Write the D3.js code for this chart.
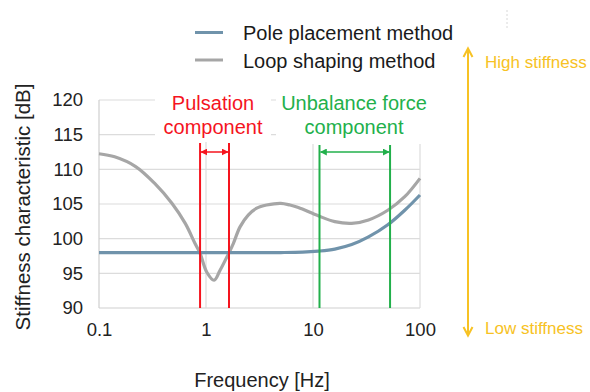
<!DOCTYPE html>
<html>
<head>
<meta charset="utf-8">
<script src="https://cdn.jsdelivr.net/npm/d3@7"></script>
<style>
  body { margin: 0; background: #fff; }
  svg { font-family: "Liberation Sans", Arial, sans-serif; }
</style>
</head>
<body>
<svg id="chart" width="590" height="392"></svg>
<script>
// Frequency points [Hz] and stiffness values [dB]
const loopFreqs = [0.1, 0.14, 0.22, 0.33, 0.48, 0.64, 0.79, 0.88, 1.015, 1.19, 1.35, 1.62, 1.8, 2.08, 2.48, 2.98, 3.69, 5.0, 6.1, 7.3, 11.2, 16, 23, 33, 50, 72, 100];
const loopShaping = [112.25, 111.8, 110.4, 108.0, 105.1, 102.2, 99.3, 97.9, 95.2, 94.0, 95.4, 97.8, 99.3, 101.7, 103.4, 104.4, 104.85, 105.1, 104.85, 104.5, 103.3, 102.45, 102.2, 102.7, 104.1, 106.05, 108.7];

const poleFreqs = [0.1, 0.3, 1, 3, 5, 8, 11.2, 16, 23, 33, 50, 72, 100];
const polePlacement = [98, 98, 98, 98, 98, 98.05, 98.2, 98.5, 99.15, 100.25, 102.0, 104.1, 106.3];

const xTicks = [0.1, 1, 10, 100];
const xTickLabels = ["0.1", "1", "10", "100"];
const yTicks = [90, 95, 100, 105, 110, 115, 120];

// frequency bands marked on the plot
const pulsationBand = [0.88, 1.64];
const unbalanceBand = [11.5, 52.5];

const svg = d3.select("#chart");

const x = d3.scaleLog().domain([0.1, 100]).range([99, 420]);
const y = d3.scaleLinear().domain([90, 120]).range([308, 100]);

const gridColor = "#dcdcdc";
const grayLine = "#a6a6a6";
const blueLine = "#7093ab";
const red = "#f5141e";
const green = "#22b04b";
const yellow = "#f7c224";

// Horizontal grid lines
svg.append("g")
    .selectAll("line")
    .data(yTicks)
    .enter()
    .append("line")
    .attr("x1", x(0.1))
    .attr("x2", x(100))
    .attr("y1", d => y(d))
    .attr("y2", d => y(d))
    .attr("stroke", d => d === 90 ? "#cfcfcf" : gridColor)
    .attr("stroke-width", 1.2);

// Vertical grid lines
svg.append("g")
    .selectAll("line")
    .data(xTicks)
    .enter()
    .append("line")
    .attr("x1", d => x(d))
    .attr("x2", d => x(d))
    .attr("y1", y(120))
    .attr("y2", y(90))
    .attr("stroke", d => d === 0.1 ? "#cfcfcf" : gridColor)
    .attr("stroke-width", 1.2);

// Axes (labels only)
const yAxis = svg.append("g")
    .attr("transform", `translate(${x(0.1)},0)`)
    .call(d3.axisLeft(y).tickValues(yTicks).tickSize(0).tickPadding(16));
yAxis.select(".domain").remove();
yAxis.selectAll("text")
    .style("font-size", "18.5px")
    .attr("fill", "#222");

const xAxis = svg.append("g")
    .attr("transform", `translate(0,${y(90)})`)
    .call(d3.axisBottom(x).tickValues(xTicks).tickSize(0).tickPadding(15)
        .tickFormat((d, i) => xTickLabels[i]));
xAxis.select(".domain").remove();
xAxis.selectAll("text")
    .style("font-size", "18.5px")
    .attr("fill", "#222");

// Curves
const line = d3.line()
    .x(d => x(d[0]))
    .y(d => y(d[1]))
    .curve(d3.curveCatmullRom.alpha(0.5));

svg.append("path")
    .datum(loopFreqs.map((f, i) => [f, loopShaping[i]]))
    .attr("d", line)
    .attr("fill", "none")
    .attr("stroke", grayLine)
    .attr("stroke-width", 3.2);

svg.append("path")
    .datum(poleFreqs.map((f, i) => [f, polePlacement[i]]))
    .attr("d", line)
    .attr("fill", "none")
    .attr("stroke", blueLine)
    .attr("stroke-width", 3.2);

// White boxes behind band labels (they hide the top grid lines)
svg.append("rect").attr("x", 155).attr("y", 86).attr("width", 116).attr("height", 56).attr("fill", "#fff");
svg.append("rect").attr("x", 276).attr("y", 86).attr("width", 156).attr("height", 58).attr("fill", "#fff");

// Arrow markers
const defs = svg.append("defs");
function addMarker(id, color) {
    defs.append("marker")
        .attr("id", id)
        .attr("viewBox", "0 0 10 10")
        .attr("refX", 9).attr("refY", 5)
        .attr("markerWidth", 7).attr("markerHeight", 7)
        .attr("markerUnits", "userSpaceOnUse")
        .attr("orient", "auto-start-reverse")
        .append("path")
        .attr("d", "M0,0L10,5L0,10Z")
        .attr("fill", color);
}
addMarker("arrRed", red);
addMarker("arrGreen", green);

function drawBand(band, top, color, marker) {
    const g = svg.append("g");
    g.selectAll("line.edge")
        .data(band)
        .enter()
        .append("line")
        .attr("x1", d => x(d)).attr("x2", d => x(d))
        .attr("y1", top).attr("y2", y(90))
        .attr("stroke", color)
        .attr("stroke-width", 2);
    g.append("line")
        .attr("x1", x(band[0]) + 1).attr("x2", x(band[1]) - 1)
        .attr("y1", 152).attr("y2", 152)
        .attr("stroke", color)
        .attr("stroke-width", 1.5)
        .attr("marker-start", `url(#${marker})`)
        .attr("marker-end", `url(#${marker})`);
}
drawBand(pulsationBand, 143, red, "arrRed");
drawBand(unbalanceBand, 145, green, "arrGreen");

// Band labels
svg.append("text")
    .attr("x", 213).attr("y", 110)
    .attr("text-anchor", "middle")
    .attr("fill", red)
    .style("font-size", "20px")
    .selectAll("tspan")
    .data(["Pulsation", "component"])
    .enter()
    .append("tspan")
    .attr("x", 213)
    .attr("dy", (d, i) => i ? 23.5 : 0)
    .text(d => d);

svg.append("text")
    .attr("x", 354).attr("y", 110)
    .attr("text-anchor", "middle")
    .attr("fill", green)
    .style("font-size", "20px")
    .selectAll("tspan")
    .data(["Unbalance force", "component"])
    .enter()
    .append("tspan")
    .attr("x", 354)
    .attr("dy", (d, i) => i ? 23.5 : 0)
    .text(d => d);

// Legend
const legend = [
    { name: "Pole placement method", color: blueLine, ly: 32.5 },
    { name: "Loop shaping method", color: grayLine, ly: 60 }
];
const lg = svg.append("g");
lg.selectAll("line")
    .data(legend)
    .enter()
    .append("line")
    .attr("x1", 195).attr("x2", 223)
    .attr("y1", d => d.ly).attr("y2", d => d.ly)
    .attr("stroke", d => d.color)
    .attr("stroke-width", 3);
lg.selectAll("text")
    .data(legend)
    .enter()
    .append("text")
    .attr("x", 243)
    .attr("y", d => d.ly + 7.5)
    .attr("fill", "#1a1a1a")
    .style("font-size", "20px")
    .text(d => d.name);

// Axis titles
svg.append("text")
    .attr("transform", "translate(30,207) rotate(-90)")
    .attr("text-anchor", "middle")
    .attr("fill", "#222")
    .style("font-size", "20.5px")
    .text("Stiffness characteristic [dB]");

svg.append("text")
    .attr("x", 262).attr("y", 387)
    .attr("text-anchor", "middle")
    .attr("fill", "#222")
    .style("font-size", "20px")
    .text("Frequency [Hz]");

// Stiffness direction arrow
const ya = svg.append("g").attr("stroke", yellow).attr("fill", "none").attr("stroke-width", 2);
ya.append("line").attr("x1", 468).attr("x2", 468).attr("y1", 48).attr("y2", 336);
ya.append("path").attr("d", "M463.5,57L468,48.5L472.5,57");
ya.append("path").attr("d", "M463.5,327L468,335.5L472.5,327");

svg.append("text")
    .attr("x", 485).attr("y", 68)
    .attr("fill", yellow)
    .style("font-size", "17px")
    .text("High stiffness");
svg.append("text")
    .attr("x", 485).attr("y", 334)
    .attr("fill", yellow)
    .style("font-size", "17px")
    .text("Low stiffness");

// faint dotted mark at top right
svg.append("line")
    .attr("x1", 507).attr("x2", 507)
    .attr("y1", 10).attr("y2", 28)
    .attr("stroke", "#d8d8d8")
    .attr("stroke-width", 1)
    .attr("stroke-dasharray", "2,2");
</script>
</body>
</html>
